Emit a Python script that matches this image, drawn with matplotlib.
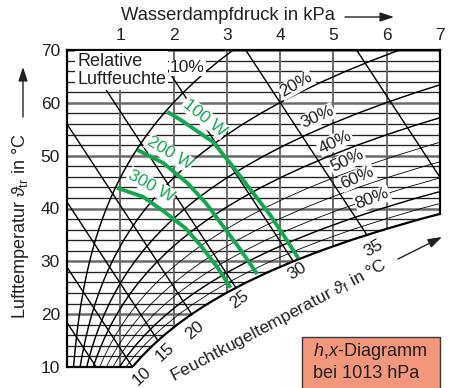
import numpy as np
import matplotlib
matplotlib.use('Agg')
import matplotlib.pyplot as plt
from matplotlib.patches import Polygon, Rectangle, FancyArrowPatch

plt.rcParams['font.family'] = ['Liberation Sans', 'DejaVu Sans']
plt.rcParams['mathtext.fontset'] = 'custom'
plt.rcParams['mathtext.rm'] = 'Liberation Sans'
plt.rcParams['mathtext.it'] = 'Liberation Sans:italic'
plt.rcParams['mathtext.bf'] = 'Liberation Sans:bold'

# ---------------- data ----------------
sat_T = list(range(10, 71, 2))                     # air temperature (°C)
sat_p = [1.228, 1.403, 1.599, 1.819, 2.065, 2.339, 2.645, 2.985, 3.363, 3.782,
         4.246, 4.759, 5.324, 5.947, 6.632, 7.384, 8.208, 9.111, 10.098, 11.177,
         12.352, 13.631, 15.022, 16.533, 18.171, 19.946, 21.867, 23.943, 26.183,
         28.599, 31.201]                            # saturation vapour pressure (kPa)

pressure_ticks = [1, 2, 3, 4, 5, 6, 7]
temp_ticks = [10, 20, 30, 40, 50, 60, 70]

rh_levels = [10, 20, 30, 40, 50, 60, 70, 80, 90]   # relative humidity (%)
rh_thin = [50, 60, 70, 90]
rh_label_levels = [10, 20, 30, 40, 50, 60, 80]

wb_temps = [5, 10, 15, 20, 25, 30, 35, 40]         # wet-bulb temperature (°C)
wb_sat_p = [0.872, 1.228, 1.705, 2.339, 3.169, 4.246, 5.628, 7.384]
wb_drop_per_K = 0.065                               # kPa per K along a wet-bulb line
wb_label_temps = [10, 15, 20, 25, 30, 35]

heat_labels = ['100 W', '200 W', '300 W']
w100_p = [1.88, 2.13, 2.74, 3.10, 3.48, 3.81, 4.10, 4.34]
w100_T = [58.3, 56.8, 52.6, 48.1, 43.1, 38.8, 34.4, 30.6]
w200_p = [1.32, 1.81, 2.26, 2.60, 2.91, 3.22, 3.57]
w200_T = [51.1, 48.6, 44.8, 41.1, 36.9, 32.7, 27.6]
w300_p = [0.94, 1.43, 1.81, 2.22, 2.50, 2.82, 3.07]
w300_T = [43.9, 42.2, 39.5, 36.3, 33.1, 28.9, 25.0]

# ---------------- style ----------------
TXT = '#231f20'
GREEN = '#14a650'
GRID_MAJOR = '#6a6a6a'
GRID_MINOR = '#222222'

fig = plt.figure(figsize=(4.49, 3.88), dpi=100)
ax = fig.add_axes([67 / 449, 21 / 388, 373 / 449, 317 / 388])
ax.set_xlim(0, 7)
ax.set_ylim(10, 70)

T = np.array(sat_T, dtype=float)
P = np.array(sat_p, dtype=float)

region = Polygon([(0, 10)] + list(zip(P, T)) + [(0, 70)], closed=True,
                 transform=ax.transData, fc='none', ec='none')

# horizontal temperature lines
for t, p in zip(sat_T, sat_p):
    major = t % 10 == 0
    ax.plot([0, p], [t, t], color=GRID_MAJOR if major else GRID_MINOR,
            lw=1.8 if major else 0.95, zorder=1, solid_capstyle='butt')

# vertical pressure lines
for x in pressure_ticks[:-1]:
    ln, = ax.plot([x, x], [10, 70], color=GRID_MAJOR, lw=1.4, zorder=1)
    ln.set_clip_path(region)

# relative humidity curves
for r in rh_levels:
    thin = r in rh_thin
    ax.plot(P * r / 100.0, T, color='k', lw=0.6 if thin else 1.05, zorder=2)

# wet-bulb lines
for tw, ps in zip(wb_temps, wb_sat_p):
    ln, = ax.plot([ps, ps - wb_drop_per_K * (70 - tw)], [tw, 70], color='k',
                  lw=1.0, zorder=2)
    ln.set_clip_path(region)

# saturation curve (boundary)
ax.plot(P, T, color='k', lw=1.6, zorder=5, solid_capstyle='butt')

# heat-dissipation curves
for pp, tt in [(w100_p, w100_T), (w200_p, w200_T), (w300_p, w300_T)]:
    ax.plot(pp, tt, color=GREEN, lw=2.8, zorder=3, solid_capstyle='butt')

# spines / ticks
for s in ax.spines.values():
    s.set_linewidth(1.6)
    s.set_zorder(6)
T7 = float(np.interp(7, P, T))
ax.spines['right'].set_bounds(T7, 70)
ax.spines['bottom'].set_bounds(0, sat_p[0])
ax.xaxis.tick_top()
ax.set_xticks(pressure_ticks)
ax.set_yticks(temp_ticks)
ax.tick_params(length=0, labelsize=12.5, labelcolor=TXT, pad=5)

# labels inside
wbox = dict(fc='white', ec='none', pad=0.6)
ax.text(0.19, 69.4, 'Relative\nLuftfeuchte', ha='left', va='top', fontsize=13,
        color=TXT, linespacing=1.08, bbox=dict(fc='white', ec='none', pad=1.5), zorder=7)

rh_pos = [(2.26, 66.6), (4.30, 63.4), (4.70, 57.3), (5.03, 52.6), (5.26, 49.0),
          (5.45, 45.8), (5.73, 41.8)]
rh_rot = [0, 30, 24, 26, 25, 24, 21]
for lvl, (x, y), rot in zip(rh_label_levels, rh_pos, rh_rot):
    ax.text(x, y, f'{lvl}%', ha='center', va='center', rotation=rot, fontsize=12.5,
            color=TXT, bbox=wbox, zorder=7)

heat_pos = [(2.58, 57.2), (1.92, 50.5), (1.58, 44.3)]
heat_rot = [-38, -31, -29]
for lab, (x, y), rot in zip(heat_labels, heat_pos, heat_rot):
    ax.text(x, y, lab, ha='center', va='center', rotation=rot, fontsize=12.5,
            color=GREEN, bbox=wbox, zorder=7)

wb_pos = [(1.395, 8.3), (1.83, 12.75), (2.39, 17.0), (3.23, 22.7), (4.32, 28.2), (5.75, 32.5)]
wb_rot = [42, 42, 40, 36, 32, 30]
for tw, (x, y), rot in zip(wb_label_temps, wb_pos, wb_rot):
    ax.text(x, y, str(tw), ha='center', va='center', rotation=rot, fontsize=12.5,
            color=TXT, zorder=7)

# axis titles
fig.text(228 / 449, 1 - 16 / 388, 'Wasserdampfdruck in kPa', ha='center', va='center',
         fontsize=13.2, color=TXT)
fig.text(21 / 449, 1 - 226 / 388, r'Lufttemperatur $\vartheta_{\mathrm{tr}}$ in °C',
         rotation=90, ha='center', va='center', fontsize=13, color=TXT)
fig.text(279 / 449, 1 - 321 / 388, r'Feuchtkugeltemperatur $\vartheta_{\mathrm{f}}$ in °C',
         rotation=28, ha='center', va='center', rotation_mode='anchor',
         fontsize=12.6, color=TXT)

astyle = '-|>,head_length=0.6,head_width=0.2'
for (x0, y0), (x1, y1) in [((345, 371), (394, 371)), ((23, 271), (23, 321)),
                           ((398, 129), (442, 151))]:
    fig.add_artist(FancyArrowPatch((x0 / 449, y0 / 388), (x1 / 449, y1 / 388),
                                   transform=fig.transFigure, arrowstyle=astyle,
                                   mutation_scale=14, lw=1.0, color=TXT,
                                   shrinkA=0, shrinkB=0))

# info box
fig.add_artist(Rectangle((302 / 449, -0.02), 138 / 449, (388 - 337) / 388 + 0.02,
                         transform=fig.transFigure, fc='#F2977B', ec='#3a3a3a', lw=1.0))
fig.text(313 / 449, 1 - 352 / 388, r'$h$,$x$-Diagramm', ha='left', va='center',
         fontsize=13, color=TXT)
fig.text(313 / 449, 1 - 374 / 388, 'bei 1013 hPa', ha='left', va='center',
         fontsize=13, color=TXT)

fig.savefig('out.png', dpi=100)
